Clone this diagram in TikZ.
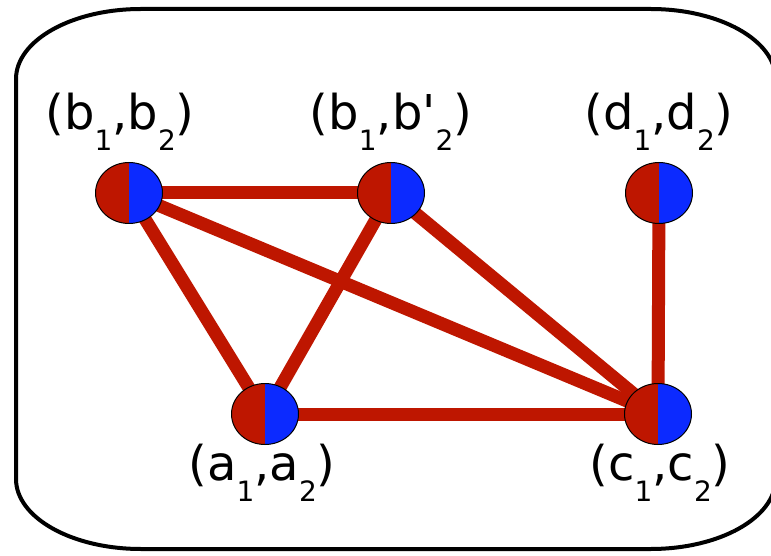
\documentclass[tikz,border=0pt]{standalone}
\usepackage{fontspec}
\setmainfont{DejaVu Sans}
\newfontfamily\primefont{DejaVu Sans}[Ligatures=TeXOff]
\usetikzlibrary{shapes.geometric,backgrounds}
\definecolor{nred}{RGB}{190,22,0}
\definecolor{nblue}{RGB}{12,42,255}
\newcommand\subdig[1]{\lower21pt\hbox{\fontsize{28}{30}\selectfont #1}}
\newcommand\pairlab[2]{(#1\subdig{1},#2\subdig{2})}
\tikzset{
  vert/.style={ellipse, draw=black, line width=1pt, minimum width=67pt, minimum height=61pt, inner sep=0pt,
    path picture={
      \fill[nred] (path picture bounding box.south west) rectangle (path picture bounding box.north);
      \fill[nblue] (path picture bounding box.south) rectangle (path picture bounding box.north east);
    }},
  edge/.style={draw=nred, line width=13pt},
  lab/.style={anchor=base, inner sep=0pt, font=\fontsize{48}{58}\selectfont},
  frame/.style={draw=black, line width=4pt}
}
\begin{document}
\begin{tikzpicture}[x=1pt,y=1pt]
\useasboundingbox (0,0) rectangle (771,555);
\draw[frame] (16,76) -- (16,476) arc[start angle=180,end angle=90,x radius=125,y radius=70]
  -- (650.6,546) arc[start angle=90,end angle=0,x radius=125,y radius=70]
  -- (775.6,76) arc[start angle=0,end angle=-90,x radius=125,y radius=70]
  -- (141,6) arc[start angle=270,end angle=180,x radius=125,y radius=70] -- cycle;
\node[vert] (b) at (129,362) {};
\node[vert] (bp) at (391,362) {};
\node[vert] (d) at (659,362) {};
\node[vert] (a) at (265,141) {};
\node[vert] (c) at (658,141) {};
\begin{pgfonlayer}{background}
\draw[edge] (b.center) -- (bp.center);
\draw[edge] (b.center) -- (a.center);
\draw[edge] (b.center) -- (c.center);
\draw[edge] (bp.center) -- (a.center);
\draw[edge] (bp.center) -- (c.center);
\draw[edge] (a.center) -- (c.center);
\draw[edge] (d.center) -- (c.center);
\end{pgfonlayer}
\node[lab] (lb) at (120,425) {\pairlab{b}{b}};
\node[lab] (lbp) at (391,425) {\pairlab{b}{b{\primefont'}}};
\node[lab] (ld) at (659,425) {\pairlab{d}{d}};
\node[lab] (la) at (262,75) {\pairlab{a}{a}};
\node[lab] (lc) at (660,75) {\pairlab{c}{c}};
\end{tikzpicture}
\end{document}
